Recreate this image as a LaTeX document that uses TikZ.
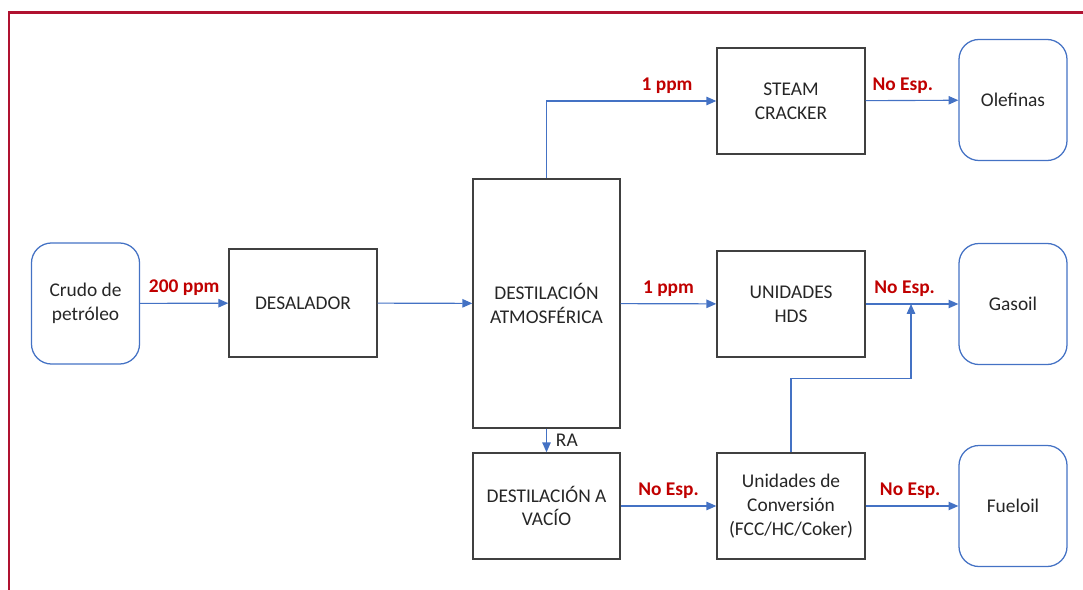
\documentclass[tikz,border=0pt]{standalone}
\usepackage{fontspec}
\setmainfont{Carlito}
\usetikzlibrary{arrows.meta}
\definecolor{flowblue}{RGB}{68,114,196}
\definecolor{espred}{RGB}{192,0,0}
\definecolor{framered}{RGB}{176,18,48}
\definecolor{boxgray}{RGB}{64,64,64}
\definecolor{txtgray}{RGB}{38,38,38}
\begin{document}
\begin{tikzpicture}[x=0.025cm, y=-0.025cm, text=txtgray, font=\fontsize{13.8}{17}\selectfont,
	unit/.style = {draw=boxgray, line width=1pt, align=center, minimum width=3.7cm, minimum height=2.65cm},
	final/.style = {draw=flowblue, line width=0.9pt, rounded corners=0.5cm, align=center, minimum width=2.7cm, minimum height=3.025cm},
	flow/.style = {draw=flowblue, line width=0.8pt, -{Triangle[length=7pt, width=6pt]}},
	lbl/.style = {text=espred, above=1.5pt, font=\fontsize{13.8}{17}\selectfont\bfseries}]
		\useasboundingbox (0,0) rectangle (1083,590);
		\draw[framered, line width=1.6pt] (9,590) -- (9,12.5) -- (1083,12.5);
		\node[final] (crudo) at (85.5,303.5) {Crudo de\\petróleo};
		\node[unit, minimum height=2.7cm] (desal) at (303,303) {DESALADOR};
		\node[unit, minimum width=3.675cm, minimum height=6.225cm] (atm) at (546.5,303.5) {DESTILACIÓN\\ATMOSFÉRICA};
		\node[unit, minimum width=3.675cm] (vac) at (546.5,506) {DESTILACIÓN A\\VACÍO};
		\node[unit] (steam) at (791,101) {STEAM\\CRACKER};
		\node[unit] (hds) at (791,304) {UNIDADES\\HDS};
		\node[unit] (conv) at (791,506) {Unidades de\\Conversión\\(FCC/HC/Coker)};
		\node[final] (olef) at (1013,100) {Olefinas};
		\node[final] (gas) at (1013,304) {Gasoil};
		\node[final] (fuel) at (1013,506) {Fueloil};
		\coordinate (junta) at (911,304);
		\draw[flow] (crudo) -- node[lbl] {200 ppm} (desal);
		\draw[flow] (desal) -- (atm);
		\draw[flow] (atm) |- node[lbl, pos=0.855] {1 ppm} (steam);
		\draw[flow] (atm) -- node[lbl] {1 ppm} (hds);
		\draw[flow] (atm) -- node[right, xshift=3pt] {RA} (vac);
		\draw[flow] (vac) -- node[lbl] {No Esp.} (conv);
		\draw[flow] (steam) -- node[lbl, pos=0.4] {No Esp.} (olef);
		\draw[flow] (hds) -- node[lbl, pos=0.42] {No Esp.} (gas);
		\draw[flow] (conv) -- node[lbl, pos=0.48] {No Esp.} (fuel);
		\draw[flow] (conv.north) -- ++(0,-74) -| (junta);
\end{tikzpicture}
\end{document}
